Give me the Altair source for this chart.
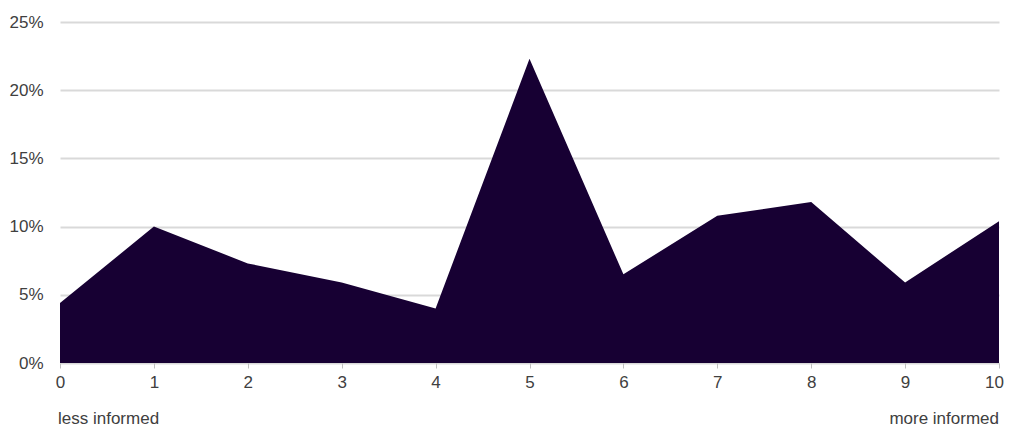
import altair as alt
import pandas as pd

scores = [0, 1, 2, 3, 4, 5, 6, 7, 8, 9, 10]
shares = [0.044, 0.100, 0.073, 0.059, 0.040, 0.223, 0.065, 0.108, 0.118, 0.059, 0.104]

end_labels = ["less informed", "more informed"]
end_pos = [0, 10]
end_align = ["left", "right"]

df = pd.DataFrame({"score": scores, "share": shares})
lab = pd.DataFrame({"score": end_pos, "label": end_labels, "align": end_align})

FONT = "Liberation Sans"
TXT = "#404040"
FS = 17

x = alt.X("score:Q", scale=alt.Scale(domain=[0, 10], nice=False),
          axis=alt.Axis(values=scores, format="d", title=None, grid=False,
                        domain=False, ticks=True, tickColor="#bfbfbf", tickSize=5,
                        labelFlush=False, labelPadding=6, labelFontSize=FS,
                        labelOffset={"condition": {"test": "datum.value == 10", "value": -5}, "value": 0},
                        labelColor=TXT, labelFont=FONT))
y = alt.Y("share:Q", scale=alt.Scale(domain=[0, 0.25], nice=False),
          axis=alt.Axis(values=[0, 0.05, 0.10, 0.15, 0.20, 0.25], format=".0%", title=None,
                        domain=False, ticks=False, grid=True, gridColor="#d9d9d9",
                        gridWidth=2, labelPadding=17, labelFontSize=FS,
                        labelColor=TXT, labelFont=FONT))

area = alt.Chart(df).mark_area(color="#170033", opacity=1, interpolate="linear").encode(x=x, y=y)

left = alt.Chart(lab[lab["align"] == "left"]).mark_text(
    align="left", baseline="middle", fontSize=FS, font=FONT, color=TXT, dx=-2
).encode(x=alt.X("score:Q"), y=alt.value(397), text="label:N")
right = alt.Chart(lab[lab["align"] == "right"]).mark_text(
    align="right", baseline="middle", fontSize=FS, font=FONT, color=TXT
).encode(x=alt.X("score:Q"), y=alt.value(397), text="label:N")

chart = alt.layer(area, left, right).properties(
    width=939, height=341,
    autosize=alt.AutoSizeParams(type="none"),
    padding={"left": 52, "top": 14, "right": 5, "bottom": 64},
).configure_view(stroke=None)

chart.save("out.html", embed_options={"renderer": "svg", "actions": False})
